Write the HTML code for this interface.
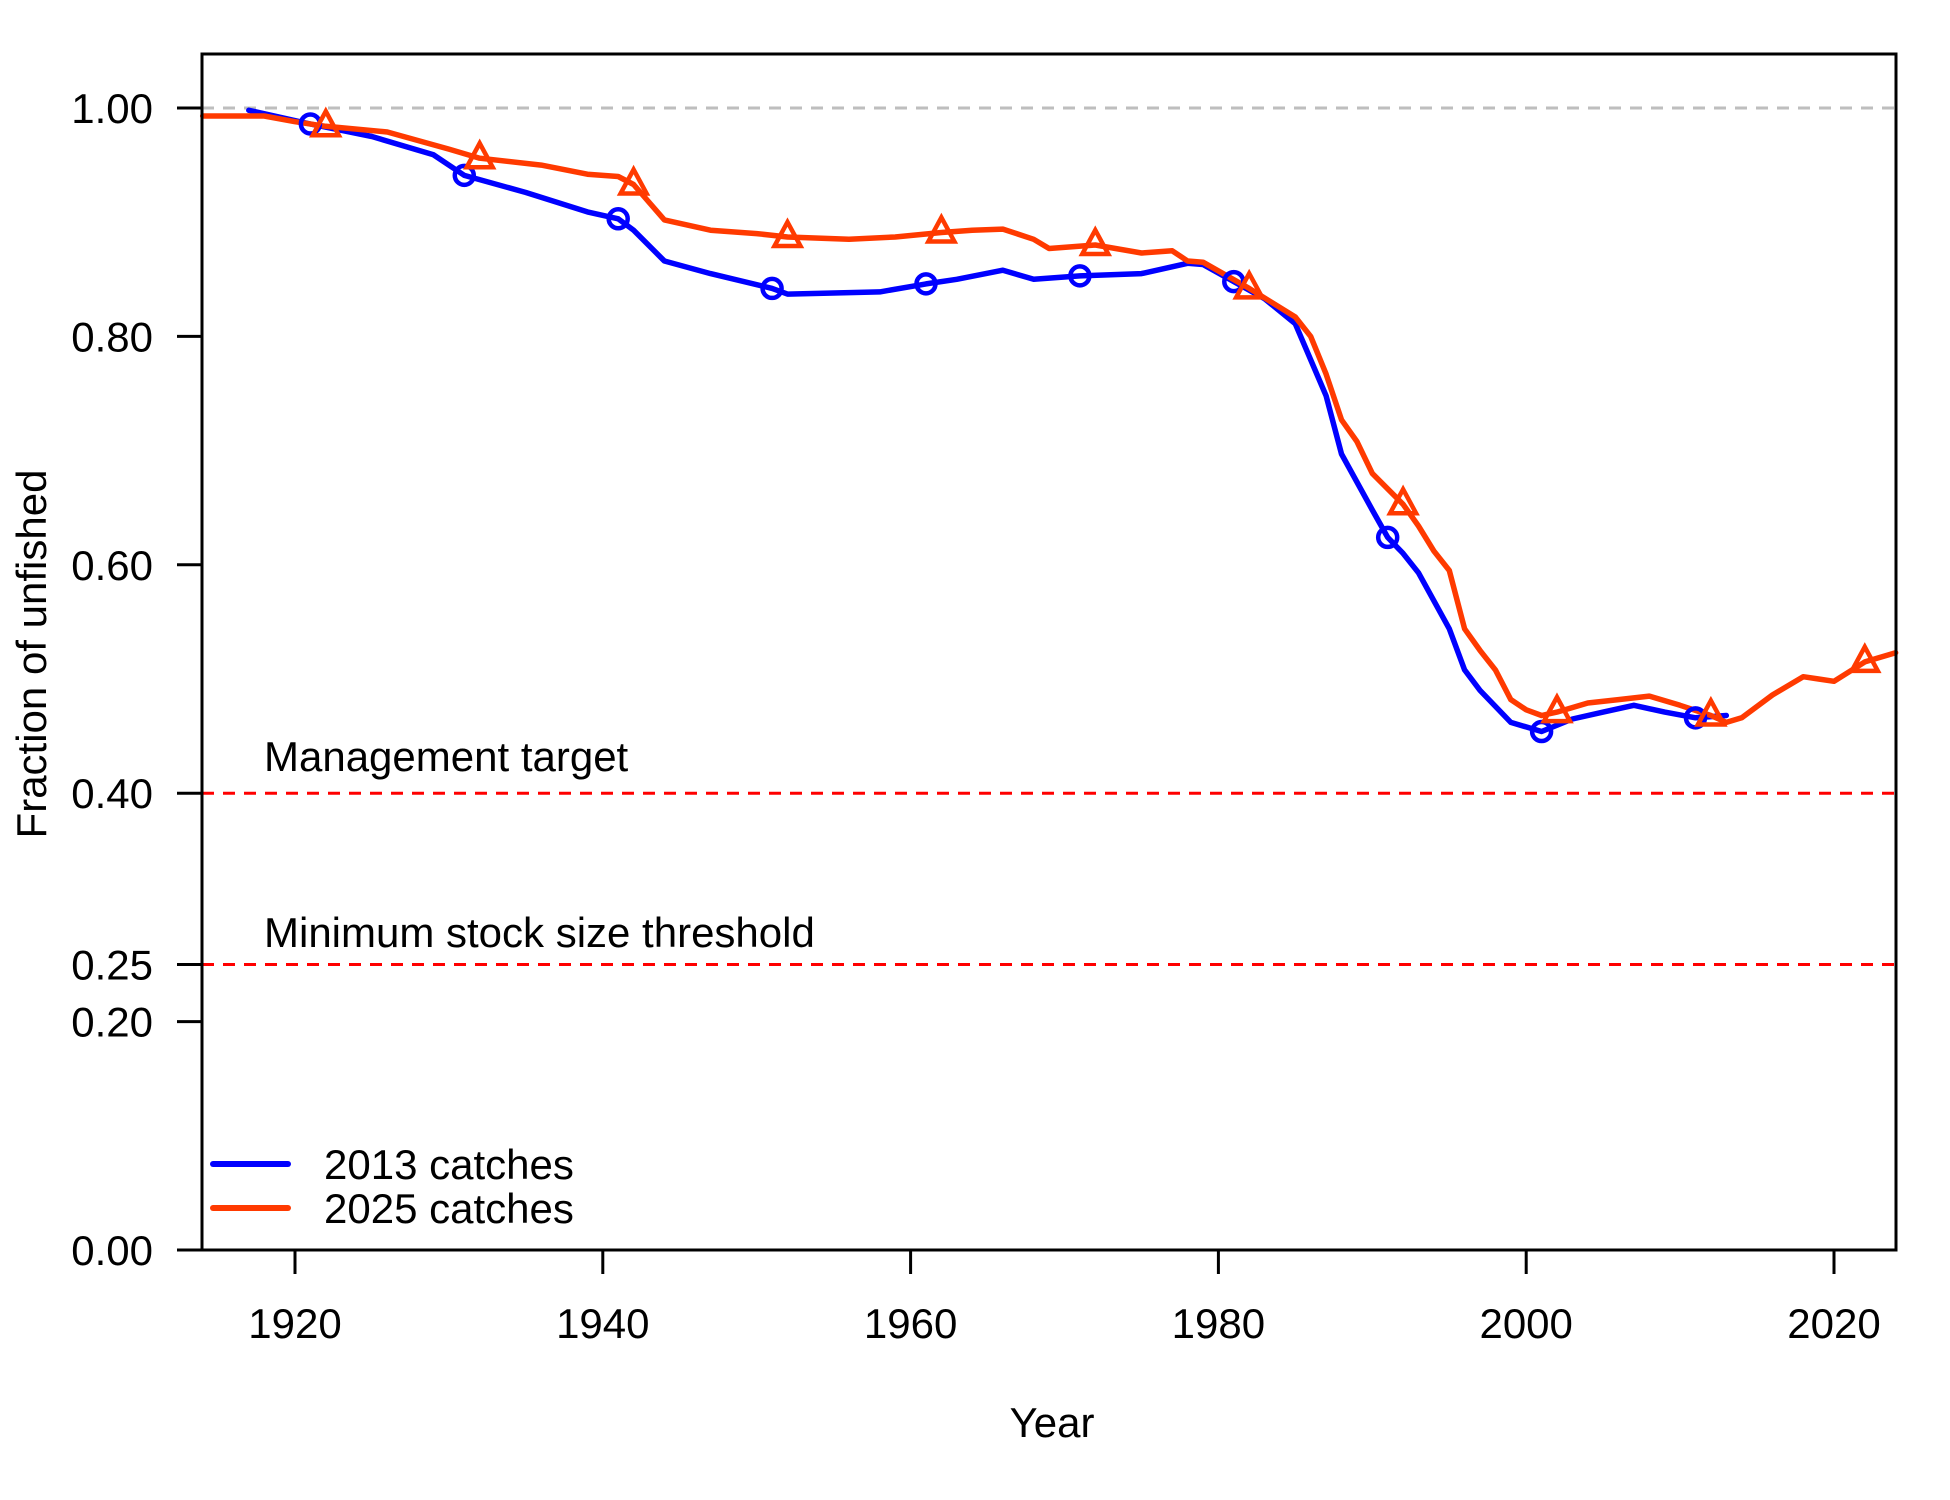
<!DOCTYPE html>
<html><head><meta charset="utf-8"><style>
html,body{margin:0;padding:0;background:#fff}
svg{display:block}
text{font-family:"Liberation Sans",Arial,sans-serif;fill:#000}
</style></head><body>
<svg id="chart" width="1950" height="1500" viewBox="0 0 1950 1500" xmlns="http://www.w3.org/2000/svg">
<g id="g"></g>
</svg>
<script>
const years2013 = [1917,1921,1925,1929,1931,1935,1939,1941,1942,1944,1947,1951,1952,1958,1961,1963,1966,1968,1971,1975,1978,1979,1981,1983,1985,1987,1988,1990,1991,1992,1993,1995,1996,1997,1999,2001,2003,2005,2007,2009,2011,2013];
const values2013 = [0.998,0.986,0.975,0.959,0.941,0.926,0.909,0.903,0.893,0.866,0.855,0.842,0.837,0.839,0.846,0.850,0.858,0.850,0.853,0.855,0.864,0.863,0.848,0.833,0.811,0.748,0.697,0.648,0.624,0.610,0.593,0.544,0.508,0.490,0.462,0.454,0.465,0.471,0.477,0.471,0.466,0.468];
const years2025 = [1914,1918,1920,1922,1926,1930,1932,1936,1939,1941,1942,1944,1947,1950,1952,1956,1959,1962,1964,1966,1968,1969,1972,1975,1977,1978,1979,1982,1985,1986,1987,1988,1989,1990,1992,1993,1994,1995,1996,1997,1998,1999,2000,2001,2002,2004,2006,2008,2010,2012,2013,2014,2016,2018,2019,2020,2022,2024];
const values2025 = [0.993,0.993,0.988,0.984,0.979,0.964,0.956,0.950,0.942,0.940,0.933,0.902,0.893,0.890,0.887,0.885,0.887,0.891,0.893,0.894,0.885,0.877,0.880,0.873,0.875,0.866,0.865,0.842,0.817,0.800,0.767,0.727,0.708,0.680,0.653,0.634,0.612,0.595,0.544,0.525,0.508,0.482,0.473,0.468,0.471,0.479,0.482,0.485,0.477,0.468,0.462,0.466,0.486,0.502,0.500,0.498,0.515,0.523];
const markerYears2013 = [1921,1931,1941,1951,1961,1971,1981,1991,2001,2011];
const markerYears2025 = [1922,1932,1942,1952,1962,1972,1982,1992,2002,2012,2022];
const yTicks = [0,0.2,0.25,0.4,0.6,0.8,1.0];
const yTickLabels = ["0.00","0.20","0.25","0.40","0.60","0.80","1.00"];
const xTicks = [1920,1940,1960,1980,2000,2020];

const L=202,R=1896,T=54,B=1250;
const x = yr => 295 + (yr-1920)*15.39;
const y = v => 1250 - v*1142;
const NS='http://www.w3.org/2000/svg';
const g=document.getElementById('g');
function mk(tag,attrs,parent){const e=document.createElementNS(NS,tag);for(const k in attrs)e.setAttribute(k,attrs[k]);(parent||g).appendChild(e);return e;}
function interp(ys,vs,yr){for(let i=0;i<ys.length-1;i++){if(yr>=ys[i]&&yr<=ys[i+1]){const t=(yr-ys[i])/(ys[i+1]-ys[i]);return vs[i]+t*(vs[i+1]-vs[i]);}}return vs[vs.length-1];}
const FS=42;

let e=mk('line',{x1:L,x2:R,y1:y(1),y2:y(1),stroke:'#BEBEBE','stroke-width':3,'stroke-dasharray':'12 9'});


e=mk('line',{x1:L,x2:R,y1:y(0.4),y2:y(0.4),stroke:'#FF0000','stroke-width':3,'stroke-dasharray':'12 9'});


e=mk('line',{x1:L,x2:R,y1:y(0.25),y2:y(0.25),stroke:'#FF0000','stroke-width':3,'stroke-dasharray':'12 9'});


e=mk('text',{x:264,y:771,'font-size':FS});e.textContent='Management target';


e=mk('text',{x:264,y:947,'font-size':FS});e.textContent='Minimum stock size threshold';



function series(ys,vs,col,name){
  const p=ys.map((yr,i)=>(i?'L':'M')+x(yr).toFixed(1)+' '+y(vs[i]).toFixed(1)).join(' ');
  const el=mk('path',{d:p,fill:'none',stroke:col,'stroke-width':5.5,'stroke-linejoin':'round','stroke-linecap':'round'});
  
  
}
series(years2013,values2013,'#0000FF','line-2013-catches');
series(years2025,values2025,'#FF3A00','line-2025-catches');
markerYears2013.forEach(yr=>{
  const c=mk('circle',{cx:x(yr),cy:y(interp(years2013,values2013,yr)),r:9.5,fill:'none',stroke:'#0000FF','stroke-width':4.5});
  
  
});
markerYears2025.forEach(yr=>{
  const cx=x(yr),cy=y(interp(years2025,values2025,yr));
  const t=mk('polygon',{points:`${cx},${cy-15} ${cx-13},${cy+9} ${cx+13},${cy+9}`,fill:'none',stroke:'#FF3A00','stroke-width':4.5,'stroke-linejoin':'miter'});
  
  
});

e=mk('rect',{x:L,y:T,width:R-L,height:B-T,fill:'none',stroke:'#000','stroke-width':3});



yTicks.forEach((v,i)=>{
  let t=mk('line',{x1:L-25,x2:L,y1:y(v),y2:y(v),stroke:'#000','stroke-width':3});
  
  
  t=mk('text',{x:153,y:y(v)+15,'font-size':FS,'text-anchor':'end'});t.textContent=yTickLabels[i];
  
  
});
xTicks.forEach(v=>{
  let t=mk('line',{x1:x(v),x2:x(v),y1:B,y2:B+24,stroke:'#000','stroke-width':3});
  
  
  t=mk('text',{x:x(v),y:1338,'font-size':FS,'text-anchor':'middle'});t.textContent=String(v);
  
  
});
e=mk('text',{x:1052,y:1437,'font-size':FS,'text-anchor':'middle'});e.textContent='Year';


e=mk('text',{x:0,y:0,'font-size':FS,'text-anchor':'middle',transform:'translate(46,654) rotate(-90)'});e.textContent='Fraction of unfished';



e=mk('line',{x1:213,x2:288,y1:1164,y2:1164,stroke:'#0000FF','stroke-width':6,'stroke-linecap':'round'});


e=mk('line',{x1:213,x2:288,y1:1208,y2:1208,stroke:'#FF3A00','stroke-width':6,'stroke-linecap':'round'});


e=mk('text',{x:324,y:1179,'font-size':FS});e.textContent='2013 catches';


e=mk('text',{x:324,y:1223,'font-size':FS});e.textContent='2025 catches';


</script>
</body></html>
